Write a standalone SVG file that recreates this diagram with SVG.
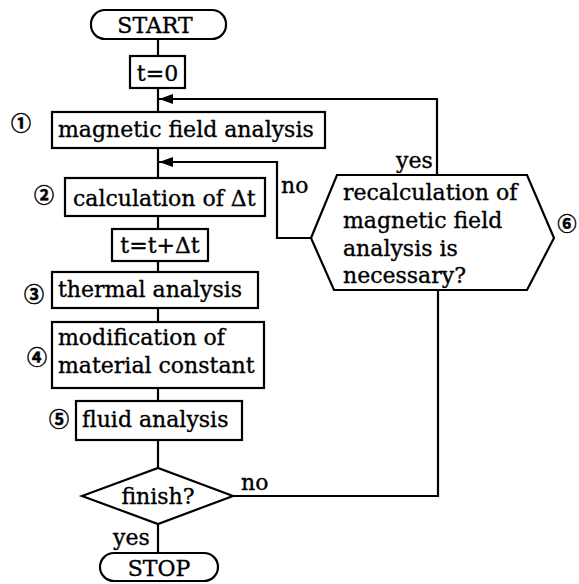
<svg xmlns="http://www.w3.org/2000/svg" width="579" height="584" viewBox="0 0 579 584">
<defs>
<style>
.n{fill:#fff;stroke:#000;stroke-width:2.2}
.t{font-family:"DejaVu Serif","Liberation Serif",serif;font-size:22px;fill:#000;stroke:#000;stroke-width:0.35}
.c{font-family:"Noto Sans CJK JP","DejaVu Sans",sans-serif;font-size:20px;font-weight:bold;fill:#000;stroke:#000;stroke-width:0.5;text-anchor:middle}
.l{fill:none;stroke:#000;stroke-width:2.2}
</style>
<marker id="ah" viewBox="0 0 14 10" refX="14" refY="5" markerWidth="14" markerHeight="10" markerUnits="userSpaceOnUse" orient="auto">
<path d="M0,0 L14,5 L0,10 Z" fill="#000"/>
</marker>
</defs>
<rect width="579" height="584" fill="#fff"/>
<g id="connectors">
<path class="l" d="M158,39V56"/>
<path class="l" d="M158,88V112"/>
<path class="l" d="M158,148V178"/>
<path class="l" d="M158,216V229"/>
<path class="l" d="M158,261V272"/>
<path class="l" d="M158,308V322"/>
<path class="l" d="M158,388V401"/>
<path class="l" d="M158,440V468"/>
<path class="l" d="M158,524V553"/>
<path class="l" d="M437,175V99H159" marker-end="url(#ah)"/>
<path class="l" d="M311,238H277V162H159" marker-end="url(#ah)"/>
<path class="l" d="M233,496H438V290"/>
<text class="t" x="396" y="168">yes</text>
<text class="t" x="281" y="193">no</text>
<text class="t" x="241" y="490">no</text>
<text class="t" x="113" y="545">yes</text>
</g>
<g id="start">
<rect class="n" x="91" y="10" width="135" height="29" rx="14" ry="14"/>
<text class="t" x="155" y="33" text-anchor="middle">START</text>
</g>
<g id="t0">
<rect class="n" x="130" y="56" width="55" height="32"/>
<text class="t" x="157.5" y="81" text-anchor="middle">t=0</text>
</g>
<g id="magnetic">
<rect class="n" x="52" y="112" width="273" height="36"/>
<text class="t" x="58" y="137">magnetic field analysis</text>
<text class="c" x="21" y="131">①</text>
</g>
<g id="calc">
<rect class="n" x="65" y="178" width="200" height="38"/>
<text class="t" x="73" y="206">calculation of Δt</text>
<text class="c" x="44" y="203">②</text>
</g>
<g id="tinc">
<rect class="n" x="112" y="229" width="96" height="32"/>
<text class="t" x="160" y="253" text-anchor="middle">t=t+Δt</text>
</g>
<g id="thermal">
<rect class="n" x="52" y="272" width="206" height="36"/>
<text class="t" x="58" y="297">thermal analysis</text>
<text class="c" x="34" y="302">③</text>
</g>
<g id="modification">
<rect class="n" x="52" y="322" width="212" height="66"/>
<text class="t" x="58" y="345">modification of</text>
<text class="t" x="58" y="373">material constant</text>
<text class="c" x="37" y="365">④</text>
</g>
<g id="fluid">
<rect class="n" x="76" y="401" width="166" height="39"/>
<text class="t" x="82" y="427">fluid analysis</text>
<text class="c" x="59" y="427">⑤</text>
</g>
<g id="finish">
<polygon class="n" points="82,496 158,468 233,496 158,524"/>
<text class="t" x="158" y="504" text-anchor="middle">finish?</text>
</g>
<g id="stop">
<rect class="n" x="100" y="553" width="118" height="28" rx="14" ry="14"/>
<text class="t" x="159" y="576" text-anchor="middle">STOP</text>
</g>
<g id="recalc">
<polygon class="n" points="311,238 337,175 527,175 554,238 527,290 334,290"/>
<text class="t" x="343" y="200">recalculation of</text>
<text class="t" x="343" y="228">magnetic field</text>
<text class="t" x="343" y="256">analysis is</text>
<text class="t" x="343" y="283">necessary?</text>
<text class="c" x="567" y="231" style="font-size:19px">⑥</text>
</g>
</svg>
